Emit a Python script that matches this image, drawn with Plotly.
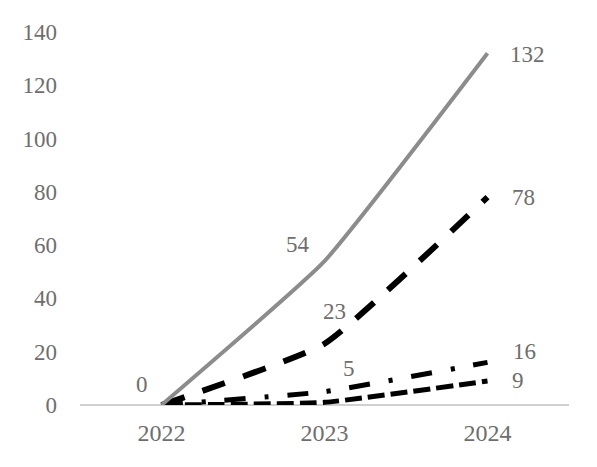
import plotly.graph_objects as go

years = ["2022", "2023", "2024"]
series_a = [0, 54, 132]
series_b = [0, 23, 78]
series_c = [0, 5, 16]
series_d = [0, 1, 9]

# value labels shown on the chart
labels_a = ["0", "54", "132"]
labels_b = [None, "23", "78"]
labels_c = [None, "5", "16"]
labels_d = [None, None, "9"]

# label offsets in pixels (style only)
offs_a = [(-20, 21), (-27, 17), (40, -1)]
offs_b = [None, (10, 32), (36, 0)]
offs_c = [None, (24, 23), (37, 11)]
offs_d = [None, None, (30, 1)]

TXT = "#6e6e6e"
FONT = "Liberation Serif"

fig = go.Figure()

styles = [
    (series_d, "black", 5, "17px,6px"),
    (series_c, "black", 5, "21px,19px,4px,19px"),
    (series_b, "black", 6, "24px,19px"),
    (series_a, "#8c8c8c", 4, "solid"),
]

for vals, col, w, dash in styles:
    fig.add_trace(go.Scatter(
        x=years, y=vals, mode="lines",
        line=dict(color=col, width=w, dash=dash, shape="spline", smoothing=0.4),
        showlegend=False, hoverinfo="skip",
    ))

annots = []
for vals, labs, offs in [(series_a, labels_a, offs_a), (series_b, labels_b, offs_b),
                         (series_c, labels_c, offs_c), (series_d, labels_d, offs_d)]:
    for i, (v, t) in enumerate(zip(vals, labs)):
        if t is None:
            continue
        dx, dy = offs[i]
        annots.append(dict(x=i, y=v, xref="x", yref="y", text=t, showarrow=False,
                           xshift=dx, yshift=dy,
                           font=dict(family=FONT, size=23, color=TXT)))

fig.update_layout(
    width=589, height=459,
    margin=dict(l=72, r=28, t=21, b=62),
    paper_bgcolor="white", plot_bgcolor="white",
    font=dict(family=FONT, size=23, color=TXT),
    annotations=annots,
    xaxis=dict(type="category", range=[-0.5, 2.5], showgrid=False, zeroline=False,
               showline=False, ticks="", ticklabelstandoff=11,
               tickfont=dict(family=FONT, size=24, color=TXT)),
    yaxis=dict(range=[0, 140], dtick=20, showgrid=False, zeroline=True,
               zerolinecolor="#d0d0d0", zerolinewidth=2, showline=False,
               ticks="", ticklabelstandoff=22,
               tickfont=dict(family=FONT, size=23, color=TXT)),
)

fig.write_html("out.html")
